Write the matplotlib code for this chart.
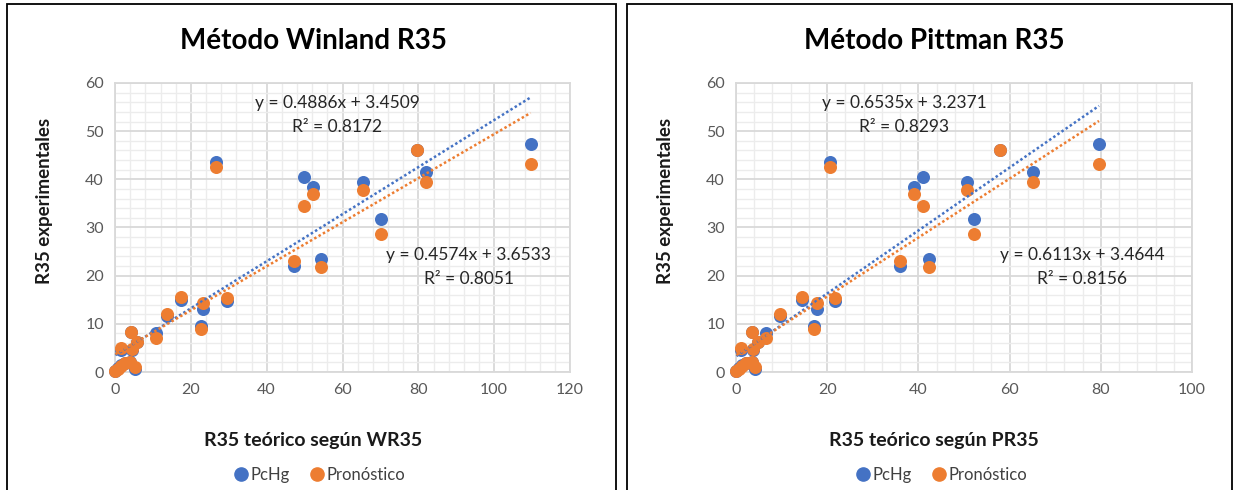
import matplotlib
matplotlib.use("Agg")
import matplotlib.pyplot as plt
from matplotlib.lines import Line2D
from matplotlib.patches import Rectangle
from matplotlib.ticker import MultipleLocator

# Experimental R35 (PcHg) and forecast (Pronóstico), shared by both methods
pchg = [43.6, 40.4, 38.5, 39.5, 46.1, 41.5, 47.3, 31.8, 22.1, 23.4, 14.8, 14.9, 13.0,
        9.5, 11.6, 8.1, 8.4, 6.3, 4.5, 4.6, 0.3, 0.8, 1.4, 1.9, 2.1, 0.6]
pronostico = [42.5, 34.5, 36.9, 37.8, 46.0, 39.4, 43.1, 28.6, 23.1, 21.7, 15.4, 15.5, 14.4,
              9.0, 12.1, 7.1, 8.4, 6.3, 4.7, 5.0, 0.2, 0.6, 1.2, 1.9, 2.0, 1.1]

# Theoretical R35 by method
winland_r35 = [26.6, 49.9, 52.1, 65.4, 79.7, 81.9, 109.6, 70.1, 47.3, 54.3, 29.5, 17.5, 23.3,
               22.7, 13.6, 10.7, 4.2, 5.9, 4.4, 1.5, 0.1, 0.7, 1.6, 2.6, 4.0, 5.3]
pittman_r35 = [20.7, 40.9, 39.0, 50.7, 57.9, 65.1, 79.6, 52.1, 35.9, 42.4, 21.8, 14.4, 17.8,
               17.2, 9.7, 6.6, 3.5, 4.8, 3.7, 1.2, 0.1, 0.6, 1.3, 2.2, 3.5, 4.1]

# Linear trendline coefficients (slope, intercept, R²)
winland_fit = {"PcHg": (0.4886, 3.4509, 0.8172), "Pronóstico": (0.4574, 3.6533, 0.8051)}
pittman_fit = {"PcHg": (0.6535, 3.2371, 0.8293), "Pronóstico": (0.6113, 3.4644, 0.8156)}

titles = ["Método Winland R35", "Método Pittman R35"]
xlabels = ["R35 teórico según WR35", "R35 teórico según PR35"]
ylabel = "R35 experimentales"
series_names = ["PcHg", "Pronóstico"]
xmax = [120, 100]

BLUE = "#4472C4"
ORANGE = "#ED7D31"
FONT = ["Lato", "DejaVu Sans"]

W, H = 1236, 490
fig = plt.figure(figsize=(W / 100, H / 100), dpi=100)
fig.patch.set_facecolor("white")


def fx(x):
    return x / W


def fy(y):
    return 1 - y / H


def fmt_eq(m, b):
    return f"y = {m:.4f}x + {b:.4f}"


panels = [
    dict(box=(7, 616), ax_left=115, ax_right=570, cx=313, x=winland_r35, fit=winland_fit,
         eq1=(337, 103), eq2=(469, 255), ylab_x=45, leg_cx=319),
    dict(box=(627, 1232), ax_left=736, ax_right=1192, cx=934, x=pittman_r35, fit=pittman_fit,
         eq1=(904, 103), eq2=(1082, 255), ylab_x=666, leg_cx=941),
]

ax_top, ax_bottom = 83, 372

for i, p in enumerate(panels):
    # panel frame
    x0, x1 = p["box"]
    fig.patches.append(Rectangle((fx(x0), fy(H + 5)), fx(x1 - x0), fy(4) - fy(H + 5),
                                 transform=fig.transFigure, fill=False,
                                 edgecolor="black", linewidth=1.3))

    ax = fig.add_axes([fx(p["ax_left"]), fy(ax_bottom), fx(p["ax_right"] - p["ax_left"]),
                       (ax_bottom - ax_top) / H])
    ax.set_xlim(0, xmax[i])
    ax.set_ylim(0, 60)
    ax.xaxis.set_major_locator(MultipleLocator(20))
    ax.xaxis.set_minor_locator(MultipleLocator(4))
    ax.yaxis.set_major_locator(MultipleLocator(10))
    ax.yaxis.set_minor_locator(MultipleLocator(2))
    ax.grid(which="minor", color="#ececec", linewidth=1.0)
    ax.grid(which="major", color="#d9d9d9", linewidth=1.3)
    ax.set_axisbelow(True)
    for s in ax.spines.values():
        s.set_color("#d9d9d9")
        s.set_linewidth(1.3)
    ax.tick_params(which="both", length=0, labelsize=11.5, labelcolor="#595959", pad=8)
    for lab in ax.get_xticklabels() + ax.get_yticklabels():
        lab.set_family(FONT)

    xs = p["x"]
    ax.scatter(xs, pchg, s=88, color=BLUE, zorder=3, linewidths=0, clip_on=False)
    ax.scatter(xs, pronostico, s=88, color=ORANGE, zorder=4, linewidths=0, clip_on=False)

    lo, hi = min(xs), max(xs)
    for name, col in zip(series_names, [BLUE, ORANGE]):
        m, b, r2 = p["fit"][name]
        ax.plot([lo, hi], [m * lo + b, m * hi + b], color=col, linewidth=1.8,
                linestyle=(0, (1, 1.0)), zorder=5, clip_on=False)

    # trendline equations
    for name, (ex, ey) in zip(series_names, [p["eq1"], p["eq2"]]):
        m, b, r2 = p["fit"][name]
        fig.text(fx(ex), fy(ey), fmt_eq(m, b), ha="center", va="center",
                 fontsize=12.5, color="#262626", family=FONT)
        fig.text(fx(ex), fy(ey + 24), f"R² = {r2:.4f}", ha="center", va="center",
                 fontsize=12.5, color="#262626", family=FONT)

    fig.text(fx(p["cx"]), fy(41), titles[i], ha="center", va="center",
             fontsize=20, fontweight="bold", color="black", family=FONT)
    fig.text(fx(p["cx"]), fy(440), xlabels[i], ha="center", va="center",
             fontsize=14, fontweight="bold", color="#1a1a1a", family=FONT)
    fig.text(fx(p["ylab_x"]), fy(201), ylabel, ha="center", va="center", rotation=90,
             fontsize=13.5, fontweight="bold", color="#1a1a1a", family=FONT)

    handles = [Line2D([], [], marker="o", linestyle="none", color=c, markersize=9.5)
               for c in [BLUE, ORANGE]]
    leg = fig.legend(handles, series_names, loc="center",
                     bbox_to_anchor=(fx(p["leg_cx"]), fy(475)), ncol=2, frameon=False,
                     handletextpad=0.1, columnspacing=1.1, handlelength=1.0,
                     prop={"family": FONT, "size": 12})
    for t in leg.get_texts():
        t.set_color("#404040")

fig.savefig("out.png", dpi=100, facecolor="white")
